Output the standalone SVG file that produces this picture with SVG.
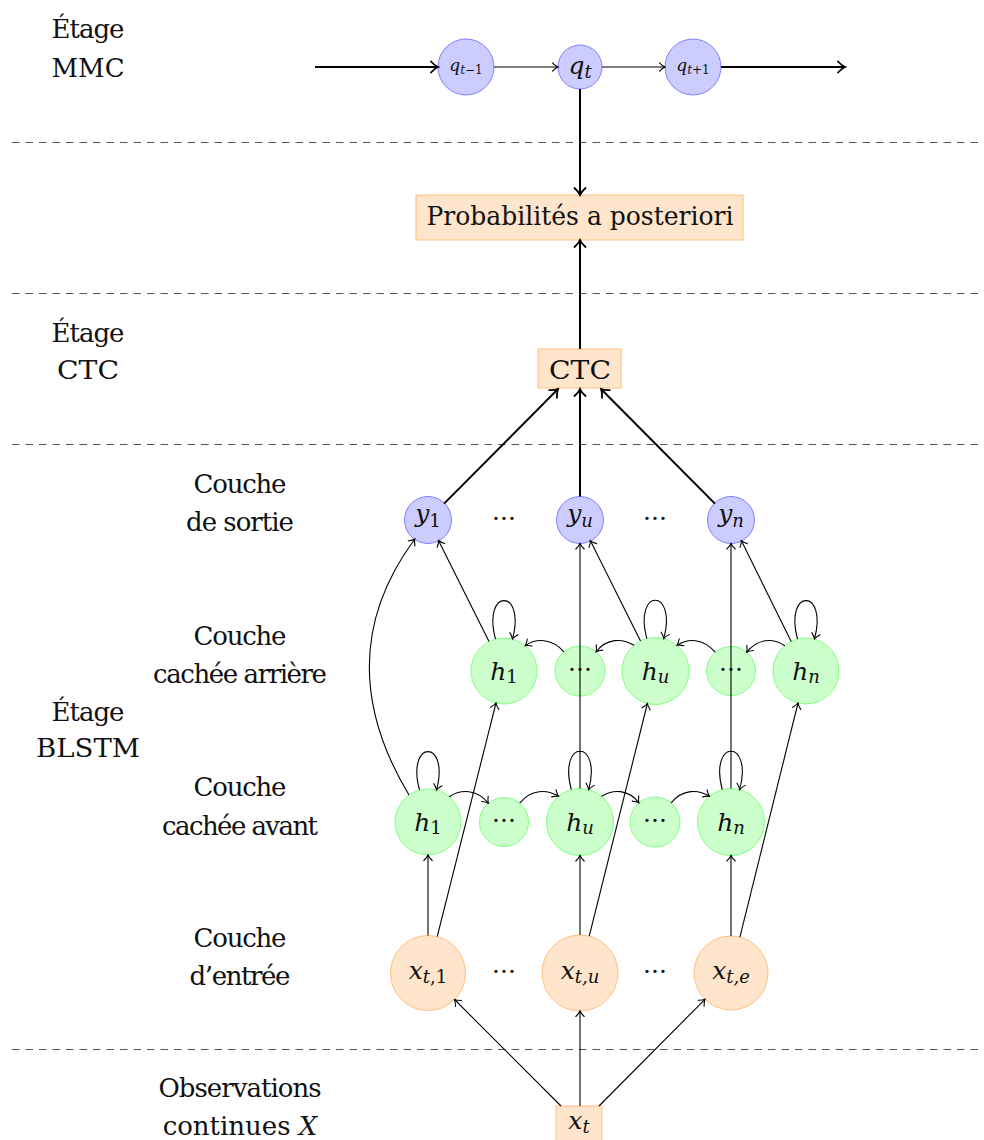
<svg xmlns="http://www.w3.org/2000/svg" width="984" height="1140" viewBox="0 0 984 1140">
  <style>
    text { font-family: "DejaVu Serif", "Liberation Serif", serif; fill: #111; text-anchor: middle; }
    .lbl { font-size: 26px; }
    .m { font-size: 25px; }
    .i { font-style: italic; }
    .sub { font-size: 18px; }
    .blue { fill: #ccccff; stroke: #8080ff; stroke-width: 1; }
    .green { fill: #ccffcc; stroke: #80ff80; stroke-width: 1; }
    .orange { fill: #ffe5cc; stroke: #ffbf80; stroke-width: 1; }
    .sep { stroke: #555; stroke-width: 1.2; stroke-dasharray: 7.5 6; fill: none; }
    .thin { stroke: #000; stroke-width: 1.1; fill: none; marker-end: url(#ah); }
    .thick { stroke: #000; stroke-width: 2; fill: none; marker-end: url(#ahT); }
  </style>
  <defs>
    <marker id="ah" viewBox="-8 -6 10 12" refX="0" refY="0" markerWidth="10" markerHeight="12" markerUnits="userSpaceOnUse" orient="auto">
      <path d="M-5.5,-4.2 C-3.2,-1.8 -1,-0.4 0,0 C-1,0.4 -3.2,1.8 -5.5,4.2" fill="none" stroke="#000" stroke-width="1.1" stroke-linecap="round"/>
    </marker>
    <marker id="ahT" viewBox="-10 -8 12 16" refX="0" refY="0" markerWidth="12" markerHeight="16" markerUnits="userSpaceOnUse" orient="auto">
      <path d="M-7,-5.5 C-4,-2.3 -1.2,-0.5 0,0 C-1.2,0.5 -4,2.3 -7,5.5" fill="none" stroke="#000" stroke-width="1.8" stroke-linecap="round"/>
    </marker>
  </defs>

  <!-- stage separators -->
  <g id="separators">
    <line class="sep" x1="12" y1="142.5" x2="978" y2="142.5"/>
    <line class="sep" x1="12" y1="293.5" x2="978" y2="293.5"/>
    <line class="sep" x1="12" y1="444.5" x2="978" y2="444.5"/>
    <line class="sep" x1="12" y1="1049.5" x2="978" y2="1049.5"/>
  </g>

  <!-- row labels -->
  <g id="labels">
    <text class="lbl" x="88" y="38" textLength="73">Étage</text>
    <text class="lbl" x="88" y="77" textLength="73" lengthAdjust="spacingAndGlyphs">MMC</text>
    <text class="lbl" x="88" y="342" textLength="73">Étage</text>
    <text class="lbl" x="88" y="379" textLength="62" lengthAdjust="spacingAndGlyphs">CTC</text>
    <text class="lbl" x="240" y="493" textLength="93">Couche</text>
    <text class="lbl" x="240" y="531" textLength="108">de sortie</text>
    <text class="lbl" x="240" y="645" textLength="93">Couche</text>
    <text class="lbl" x="240" y="683" textLength="174">cachée arrière</text>
    <text class="lbl" x="88" y="721" textLength="73">Étage</text>
    <text class="lbl" x="88" y="757" textLength="104" lengthAdjust="spacingAndGlyphs">BLSTM</text>
    <text class="lbl" x="240" y="796" textLength="93">Couche</text>
    <text class="lbl" x="240" y="835" textLength="156">cachée avant</text>
    <text class="lbl" x="240" y="947" textLength="93">Couche</text>
    <text class="lbl" x="240" y="985" textLength="101">d’entrée</text>
    <text class="lbl" x="240" y="1097" textLength="163">Observations</text>
    <text class="lbl" x="240" y="1135">continues <tspan class="i">X</tspan></text>
  </g>

  <!-- MMC states -->
  <g id="q-prev">
    <circle class="blue" cx="466" cy="67" r="28"/>
    <text x="466" y="71" style="font-size:17px"><tspan class="i">q</tspan><tspan dy="3" style="font-size:12px"><tspan class="i">t</tspan>−1</tspan></text>
  </g>
  <g id="q-t">
    <circle class="blue" cx="580" cy="67" r="22"/>
    <text class="m" x="580" y="74"><tspan class="i">q</tspan><tspan class="sub i" dy="4">t</tspan></text>
  </g>
  <g id="q-next">
    <circle class="blue" cx="693" cy="67" r="28"/>
    <text x="693" y="71" style="font-size:17px"><tspan class="i">q</tspan><tspan dy="3" style="font-size:12px"><tspan class="i">t</tspan>+1</tspan></text>
  </g>

  <!-- CTC stage -->
  <g id="posteriors">
    <rect class="orange" x="416" y="195" width="327" height="45"/>
    <text class="lbl" x="580" y="225" textLength="307" lengthAdjust="spacingAndGlyphs">Probabilités a posteriori</text>
  </g>
  <g id="ctc">
    <rect class="orange" x="538" y="349" width="83" height="39"/>
    <text class="lbl" x="580" y="379" textLength="62" lengthAdjust="spacingAndGlyphs">CTC</text>
  </g>

  <!-- output layer -->
  <g id="y-1">
    <circle class="blue" cx="428" cy="520" r="23.5"/>
    <text class="m" x="428" y="522"><tspan class="i">y</tspan><tspan class="sub" dy="5">1</tspan></text>
  </g>
  <g id="y-u">
    <circle class="blue" cx="580" cy="520" r="23.5"/>
    <text class="m" x="580" y="522"><tspan class="i">y</tspan><tspan class="sub i" dy="5">u</tspan></text>
  </g>
  <g id="y-n">
    <circle class="blue" cx="731" cy="520" r="23.5"/>
    <text class="m" x="731" y="522"><tspan class="i">y</tspan><tspan class="sub i" dy="5">n</tspan></text>
  </g>
  <g id="y-dots">
    <text class="m" x="504" y="527">···</text>
    <text class="m" x="655" y="527">···</text>
  </g>

  <!-- backward hidden layer -->
  <g id="hb-1">
    <circle class="green" cx="504" cy="671" r="33"/>
    <text class="m" x="504" y="680"><tspan class="i">h</tspan><tspan class="sub" dy="3">1</tspan></text>
  </g>
  <g id="hb-d1">
    <circle class="green" cx="580" cy="671" r="25"/>
    <text class="m" x="580" y="678">···</text>
  </g>
  <g id="hb-u">
    <circle class="green" cx="655.5" cy="671" r="33.5"/>
    <text class="m" x="655.5" y="680"><tspan class="i">h</tspan><tspan class="sub i" dy="3">u</tspan></text>
  </g>
  <g id="hb-d2">
    <circle class="green" cx="731" cy="671" r="24.5"/>
    <text class="m" x="731" y="678">···</text>
  </g>
  <g id="hb-n">
    <circle class="green" cx="806" cy="671" r="33"/>
    <text class="m" x="806" y="680"><tspan class="i">h</tspan><tspan class="sub i" dy="3">n</tspan></text>
  </g>

  <!-- forward hidden layer -->
  <g id="hf-1">
    <circle class="green" cx="428" cy="822" r="33"/>
    <text class="m" x="428" y="831"><tspan class="i">h</tspan><tspan class="sub" dy="3">1</tspan></text>
  </g>
  <g id="hf-d1">
    <circle class="green" cx="504" cy="822" r="24.5"/>
    <text class="m" x="504" y="829">···</text>
  </g>
  <g id="hf-u">
    <circle class="green" cx="580" cy="822" r="33.5"/>
    <text class="m" x="580" y="831"><tspan class="i">h</tspan><tspan class="sub i" dy="3">u</tspan></text>
  </g>
  <g id="hf-d2">
    <circle class="green" cx="655" cy="822" r="25"/>
    <text class="m" x="655" y="829">···</text>
  </g>
  <g id="hf-n">
    <circle class="green" cx="731" cy="822" r="33.5"/>
    <text class="m" x="731" y="831"><tspan class="i">h</tspan><tspan class="sub i" dy="3">n</tspan></text>
  </g>

  <!-- input layer -->
  <g id="x-1">
    <circle class="orange" cx="428" cy="973" r="37.5"/>
    <text class="m" x="428" y="979"><tspan class="i">x</tspan><tspan class="sub" dy="4"><tspan class="i">t</tspan>,1</tspan></text>
  </g>
  <g id="x-u">
    <circle class="orange" cx="580" cy="973" r="38"/>
    <text class="m" x="580" y="979"><tspan class="i">x</tspan><tspan class="sub i" dy="4">t,u</tspan></text>
  </g>
  <g id="x-e">
    <circle class="orange" cx="731" cy="973" r="37"/>
    <text class="m" x="731" y="979"><tspan class="i">x</tspan><tspan class="sub i" dy="4">t,e</tspan></text>
  </g>
  <g id="x-dots">
    <text class="m" x="504" y="980">···</text>
    <text class="m" x="655" y="980">···</text>
  </g>

  <!-- observation -->
  <g id="x-t">
    <rect class="orange" x="556" y="1106" width="46" height="40"/>
    <text class="m" x="579" y="1129"><tspan class="i">x</tspan><tspan class="sub i" dy="4">t</tspan></text>
  </g>

  <!-- connectors -->
  <g id="connectors">
    <!-- MMC chain -->
    <line class="thick" x1="315" y1="67" x2="438" y2="67"/>
    <line class="thin" x1="494" y1="67" x2="558" y2="67"/>
    <line class="thin" x1="602" y1="67" x2="665" y2="67"/>
    <line class="thick" x1="721" y1="67" x2="845" y2="67"/>
    <line class="thick" x1="580" y1="89" x2="580" y2="195"/>
    <!-- CTC to posteriors -->
    <line class="thick" x1="580" y1="349" x2="580" y2="240"/>
    <!-- outputs to CTC -->
    <line class="thick" x1="444.1" y1="503.6" x2="558" y2="389"/>
    <line class="thick" x1="580" y1="496.5" x2="580" y2="389"/>
    <line class="thick" x1="714.9" y1="503.6" x2="601" y2="389"/>

    <!-- backward layer to outputs -->
    <line class="thin" x1="489" y1="641.5" x2="438.5" y2="540.5"/>
    <line class="thin" x1="640.5" y1="641" x2="590.3" y2="540.6"/>
    <line class="thin" x1="791.2" y1="641.5" x2="741.3" y2="540.6"/>
    <!-- forward layer to outputs -->
    <path class="thin" d="M409,795 C355,705 355,620 414.8,539"/>
    <line class="thin" x1="580" y1="788.5" x2="580" y2="543.5"/>
    <line class="thin" x1="731" y1="788.5" x2="731" y2="543.5"/>

    <!-- backward recurrences -->
    <path class="thin" d="M495.5,639 C481.8,587.8 526.2,587.8 512.5,639"/>
    <path class="thin" d="M646.8,638.6 C633.1,587.4 677.5,587.4 663.8,638.6"/>
    <path class="thin" d="M797.5,639 C783.8,587.8 828.2,587.8 814.5,639"/>
    <path class="thin" d="M563.9,651.8 C552,638 536,638 525.2,645.7"/>
    <path class="thin" d="M634,645.3 C622,638 607,638 596.1,651.8"/>
    <path class="thin" d="M715.3,652.2 C703,638 688,638 677,645.3"/>
    <path class="thin" d="M784.8,645.7 C773,638 758,638 746.7,652.2"/>

    <!-- forward recurrences -->
    <path class="thin" d="M419.5,790 C405.8,738.8 450.2,738.8 436.5,790"/>
    <path class="thin" d="M571.3,789.6 C557.6,738.4 602.4,738.4 588.7,789.6"/>
    <path class="thin" d="M722.3,789.6 C708.6,738.4 753.4,738.4 739.7,789.6"/>
    <path class="thin" d="M449.2,796.7 C461,789 477,789 488.3,803.2"/>
    <path class="thin" d="M519.7,803.2 C531,789 547,789 558.5,796.3"/>
    <path class="thin" d="M601.5,796.3 C613,789 628,789 638.9,802.8"/>
    <path class="thin" d="M671.1,802.8 C683,789 698,789 709.5,796.3"/>

    <!-- inputs to forward layer -->
    <line class="thin" x1="428" y1="935.5" x2="428" y2="855"/>
    <line class="thin" x1="580" y1="935" x2="580" y2="855.5"/>
    <line class="thin" x1="731" y1="936" x2="731" y2="855.5"/>
    <!-- inputs to backward layer -->
    <line class="thin" x1="437.2" y1="936.6" x2="496" y2="703"/>
    <line class="thin" x1="589.2" y1="936.1" x2="647.4" y2="703.5"/>
    <line class="thin" x1="739.9" y1="937.1" x2="798" y2="703"/>

    <!-- observation to inputs -->
    <line class="thin" x1="561" y1="1106" x2="454.5" y2="999.5"/>
    <line class="thin" x1="580" y1="1106" x2="580" y2="1011"/>
    <line class="thin" x1="599" y1="1106" x2="705" y2="999.3"/>
  </g>
</svg>
